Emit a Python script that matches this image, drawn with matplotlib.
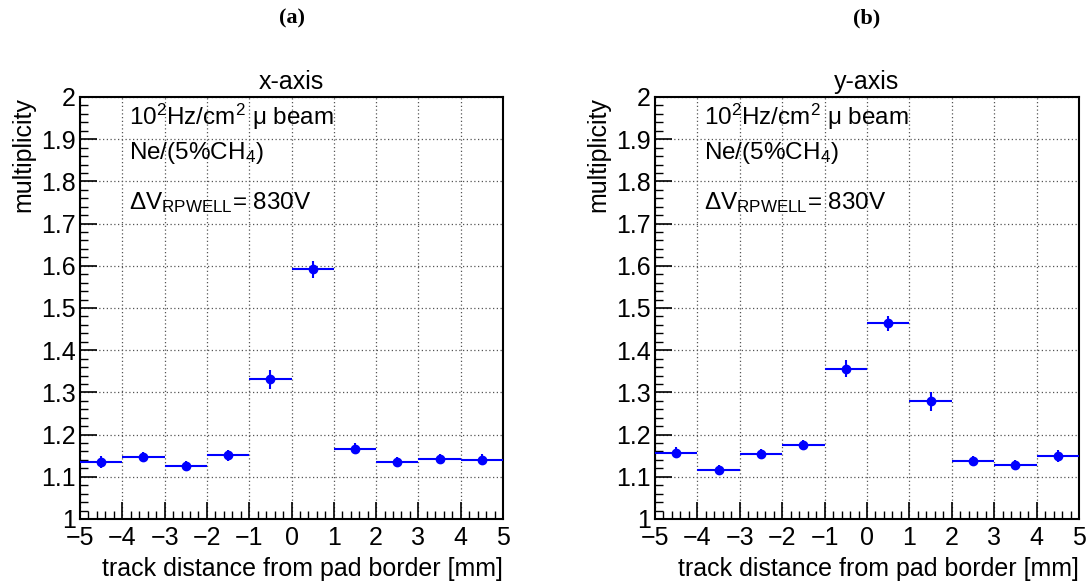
# Multiplicity vs track distance from pad border, x and y axis
import numpy as np
import matplotlib
matplotlib.use("Agg")
import matplotlib.pyplot as plt
from matplotlib.ticker import MultipleLocator, FuncFormatter

plt.rcParams['font.family'] = ['Liberation Sans', 'DejaVu Sans']
plt.rcParams['mathtext.fontset'] = 'custom'
plt.rcParams['mathtext.rm'] = 'Liberation Sans'
plt.rcParams['mathtext.it'] = 'Liberation Sans:italic'
plt.rcParams['axes.unicode_minus'] = True

# ------------------------------
# data (bin centres, values, errors)
# ------------------------------
bin_centers = [-4.5, -3.5, -2.5, -1.5, -0.5, 0.5, 1.5, 2.5, 3.5, 4.5]
bin_halfwidth = 0.5

mult_x = [1.135, 1.146, 1.126, 1.151, 1.331, 1.592, 1.167, 1.136, 1.143, 1.140]
err_x = [0.014, 0.012, 0.011, 0.013, 0.022, 0.020, 0.013, 0.012, 0.012, 0.013]

mult_y = [1.157, 1.116, 1.154, 1.176, 1.356, 1.464, 1.279, 1.137, 1.128, 1.150]
err_y = [0.013, 0.012, 0.012, 0.012, 0.020, 0.018, 0.023, 0.012, 0.012, 0.014]

panel_labels = ["(a)", "(b)"]
panel_titles = ["x-axis", "y-axis"]
info_lines = [r"10$^{2}$Hz/cm$^{2}$ μ beam",
              r"Ne/(5%CH$_{4}$)",
              r"ΔV$_{\mathrm{RPWELL}}$= 830V"]
info_y = [1.953, 1.867, 1.75]

fig = plt.figure(figsize=(10.86, 5.81), dpi=100)
W, H = 1086, 581
axes_px = [(80, 503), (655, 1079)]
top_px, bot_px = 97, 519

series = [(mult_x, err_x), (mult_y, err_y)]

for i, (x0, x1) in enumerate(axes_px):
    ax = fig.add_axes([x0 / W, 1 - bot_px / H, (x1 - x0) / W, (bot_px - top_px) / H])
    vals, errs = series[i]
    ax.errorbar(bin_centers, vals, yerr=errs, xerr=bin_halfwidth,
                fmt='o', color='#0000ff', ms=6, elinewidth=1.5, capsize=0, zorder=3)
    ax.set_xlim(-5, 5)
    ax.set_ylim(1, 2)

    ax.xaxis.set_major_locator(MultipleLocator(1))
    ax.xaxis.set_minor_locator(MultipleLocator(0.2))
    ax.yaxis.set_major_locator(MultipleLocator(0.1))
    ax.yaxis.set_minor_locator(MultipleLocator(0.02))
    ax.yaxis.set_major_formatter(FuncFormatter(lambda v, p: "%g" % round(v, 2)))
    ax.xaxis.set_major_formatter(FuncFormatter(lambda v, p: ("%g" % round(v, 2)).replace("-", "\u2212")))

    ax.tick_params(which='major', direction='in', length=12, width=1.2, labelsize=18,
                   top=False, right=False)
    ax.tick_params(axis='x', which='major', pad=5)
    ax.tick_params(axis='y', which='major', pad=3)
    ax.tick_params(which='minor', direction='in', length=6, width=1.0,
                   top=False, right=False)
    ax.grid(True, which='major', linestyle=(0, (1, 2)), color='#555555', linewidth=0.9)
    for sp in ax.spines.values():
        sp.set_linewidth(1.5)

    ax.set_xlabel("track distance from pad border [mm]", loc='right', fontsize=18, labelpad=5)
    ax.set_ylabel("multiplicity", loc='top', fontsize=18, labelpad=4)
    ax.set_title(panel_titles[i], fontsize=18, pad=6)

    for line, yy in zip(info_lines, info_y):
        ax.text(-3.85, yy, line, fontsize=17.5, va='center', ha='left')

    fig.text(((x0 + x1) / 2) / W, 1 - 18 / H, panel_labels[i], fontsize=16,
             fontweight='bold', family='Liberation Serif', ha='center', va='center')

fig.savefig("out.png", dpi=100)
